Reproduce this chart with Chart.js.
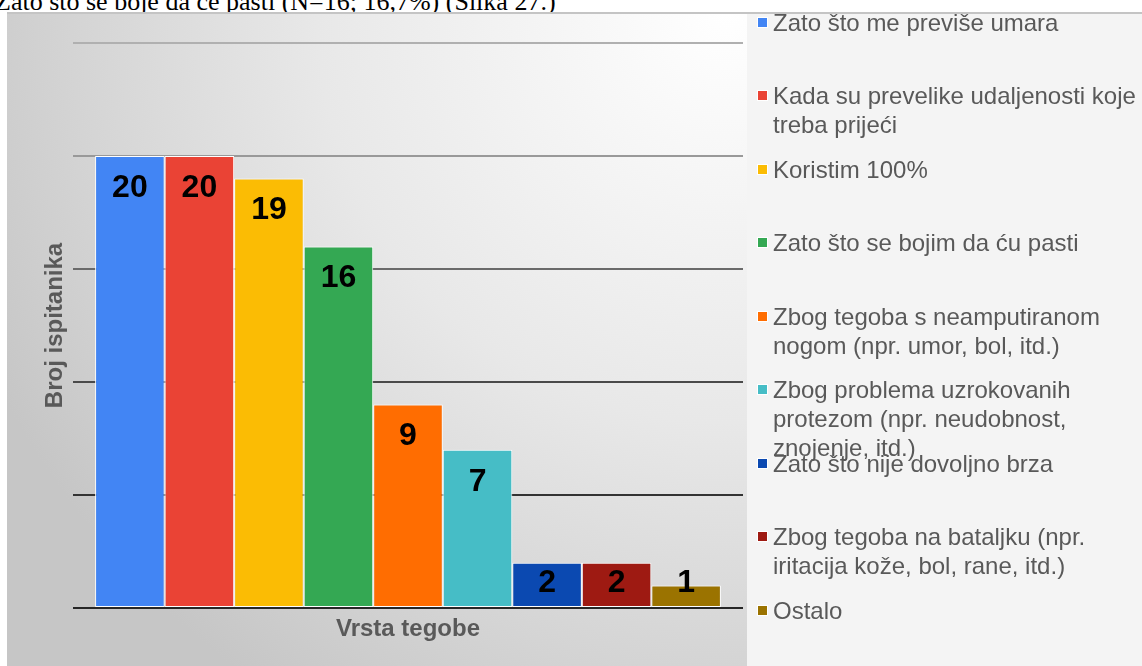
<!DOCTYPE html>
<html>
<head>
<meta charset="utf-8">
<script src="https://cdn.jsdelivr.net/npm/chart.js@4.4.0/dist/chart.umd.min.js"></script>
<style>
  body { margin: 0; background: #fff; width: 1142px; height: 666px; overflow: hidden; position: relative; font-family: "Liberation Sans", Arial, sans-serif; }
  #caption { position: absolute; left: -5px; top: -11px; font: 26px/26px "Liberation Serif", "Times New Roman", serif; color: #000; white-space: nowrap; }
  #wrap { position: absolute; left: 7px; top: 12px; width: 1135px; height: 654px; }
  #legend { position: absolute; left: 0; top: 0; }
  .item { position: absolute; left: 766px; font-size: 24px; line-height: 29px; color: #595959; white-space: nowrap; }
  .mark { position: absolute; left: -16px; top: 9px; width: 9px; height: 9px; border: 1px solid #fff; }
</style>
</head>
<body>
<div id="caption">Zato što se boje da će pasti (N=16; 16,7%) (Slika 27.)</div>
<div id="wrap">
  <canvas id="chart"></canvas>
  <div id="legend"></div>
</div>
<script>
// category on the x axis, one dataset per reason
const category = ["Vrsta tegobe"];
const seriesNames = [
  ["Zato što me previše umara"],
  ["Kada su prevelike udaljenosti koje", "treba prijeći"],
  ["Koristim 100%"],
  ["Zato što se bojim da ću pasti"],
  ["Zbog tegoba s neamputiranom", "nogom (npr. umor, bol, itd.)"],
  ["Zbog problema uzrokovanih", "protezom (npr. neudobnost,", "znojenje, itd.)"],
  ["Zato što nije dovoljno brza"],
  ["Zbog tegoba na bataljku (npr.", "iritacija kože, bol, rane, itd.)"],
  ["Ostalo"]
];
const seriesValues = [20, 20, 19, 16, 9, 7, 2, 2, 1];
const seriesColors = ["#4285f4", "#ea4335", "#fbbc04", "#34a853", "#ff6d01", "#46bdc6", "#0b49b1", "#9e1a12", "#9b7300"];
const gridColors = { 0: "#262626", 5: "#333333", 10: "#4a4a4a", 15: "#6a6a6a", 20: "#999999", 25: "#b0b0b0" };

// background: grey gradient behind plot, flat grey behind legend
const bgPlugin = {
  id: "bg",
  beforeDraw(chart) {
    const { ctx, width, height } = chart;
    ctx.save();
    const g = ctx.createRadialGradient(720, 0, 0, 720, 0, 820);
    g.addColorStop(0, "#ffffff");
    g.addColorStop(0.5, "#e8e8e8");
    g.addColorStop(0.8, "#d4d4d4");
    g.addColorStop(1, "#c6c6c6");
    ctx.fillStyle = g;
    ctx.fillRect(0, 0, 740, height);
    ctx.fillStyle = "#f4f4f4";
    ctx.fillRect(740, 0, width - 740, height);
    ctx.fillStyle = "#c4c4c4";
    ctx.fillRect(0, 0, width, 2);
    ctx.restore();
  }
};

// value labels and axis titles
const labelPlugin = {
  id: "labels",
  afterDatasetsDraw(chart) {
    const ctx = chart.ctx;
    ctx.save();
    ctx.font = "bold 32px 'Liberation Sans', Arial, sans-serif";
    ctx.fillStyle = "#000";
    ctx.textAlign = "center";
    ctx.textBaseline = "middle";
    chart.data.datasets.forEach((ds, i) => {
      const bar = chart.getDatasetMeta(i).data[0];
      const y = Math.min(bar.y + 32, bar.base - 24);
      ctx.fillText(String(ds.data[0]), bar.x, y);
    });
    ctx.restore();
  },
  afterDraw(chart) {
    const { ctx, chartArea } = chart;
    ctx.save();
    ctx.font = "bold 24px 'Liberation Sans', Arial, sans-serif";
    ctx.fillStyle = "#595959";
    ctx.textAlign = "center";
    ctx.textBaseline = "middle";
    ctx.fillText("Vrsta tegobe", (chartArea.left + chartArea.right) / 2, 617);
    ctx.translate(48, (chartArea.top + chartArea.bottom) / 2);
    ctx.rotate(-Math.PI / 2);
    ctx.fillText("Broj ispitanika", 0, 0);
    ctx.restore();
  }
};

new Chart(document.getElementById("chart"), {
  type: "bar",
  data: {
    labels: category,
    datasets: seriesNames.map((name, i) => ({
      label: name.join(" "),
      data: [seriesValues[i]],
      backgroundColor: seriesColors[i],
      borderColor: "#ffffff",
      borderWidth: 1,
      borderSkipped: false,
      categoryPercentage: 0.934,
      barPercentage: 1
    }))
  },
  options: {
    responsive: true,
    maintainAspectRatio: false,
    animation: false,
    layout: { padding: { left: 66, right: 399, top: 31, bottom: 58 } },
    plugins: { legend: { display: false }, tooltip: { enabled: false } },
    scales: {
      x: {
        grid: { display: false },
        border: { display: false },
        ticks: { display: false },
        afterFit: (axis) => { axis.height = 0; }
      },
      y: {
        min: 0,
        max: 25,
        ticks: { display: false, stepSize: 5 },
        border: { display: false },
        grid: {
          drawTicks: false,
          lineWidth: 2,
          color: (c) => gridColors[c.tick.value] || "#888"
        },
        afterFit: (axis) => { axis.width = 0; }
      }
    }
  },
  plugins: [bgPlugin, labelPlugin]
});

// legend built from the same series arrays
const legend = document.getElementById("legend");
seriesNames.forEach((lines, i) => {
  const item = document.createElement("div");
  item.className = "item";
  item.style.top = (-4.5 + i * 73.5) + "px";
  item.innerHTML = '<span class="mark" style="background:' + seriesColors[i] + '"></span>' + lines.join("<br>");
  legend.appendChild(item);
});
</script>
</body>
</html>
